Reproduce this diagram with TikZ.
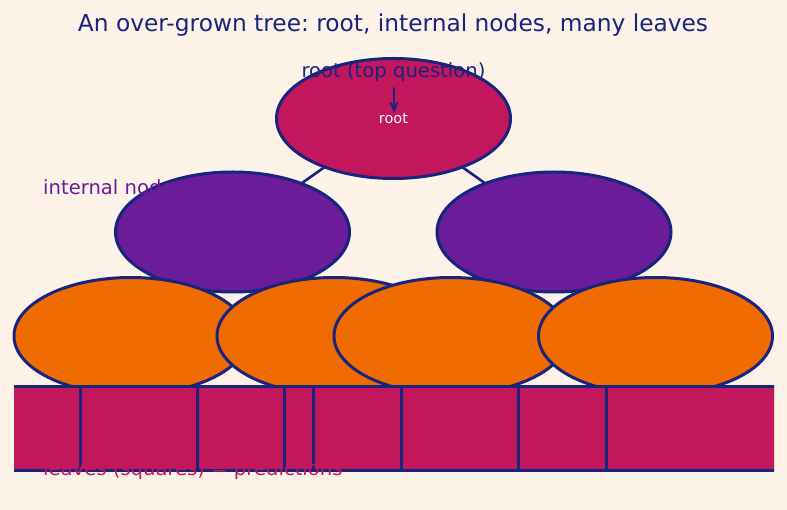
\documentclass[tikz,border=0pt]{standalone}
\usepackage{fontspec}
\setmainfont{DejaVu Sans}
\usetikzlibrary{arrows,shapes.geometric}
\definecolor{ffwwtt}{rgb}{0.99,0.95,0.91}
\definecolor{ccqqww}{rgb}{0.76,0.09,0.36}
\definecolor{wwqqcc}{rgb}{0.42,0.11,0.6}
\definecolor{ffwwqq}{rgb}{0.94,0.42,0.0}
\definecolor{qqqqww}{rgb}{0.1,0.14,0.49}
\frenchspacing

\begin{document}
\begin{tikzpicture}[x=1pt,y=-1pt,line cap=round,line join=round,>=angle 45,
	blob/.style={ellipse,draw=qqqqww,line width=3pt,minimum width=234pt,minimum height=120pt,inner sep=0pt,outer sep=0pt},
	leafblob/.style={blob,fill=ffwwqq,minimum height=117pt},
	leafbox/.style={rectangle,draw=qqqqww,fill=ccqqww,line width=3pt,line join=miter,anchor=north west,minimum height=83pt,inner sep=0pt,outer sep=0pt},
	lbl/.style={font=\fontsize{19.6}{23}\selectfont,inner sep=0pt}]
	\useasboundingbox (0,0) rectangle (787,510);
	\fill[ffwwtt] (0,0) rectangle (787,510);
	% the tree itself
	\node[blob,fill=ccqqww,text=white,font=\fontsize{14.5}{17}\selectfont] (root) at (393.5,118.5) {root};
	\node[blob,fill=wwqqcc] (intL) at (232.5,232) {};
	\node[blob,fill=wwqqcc] (intR) at (554,232) {};
	\draw[qqqqww,line width=2.6pt] (root) -- (intL);
	\draw[qqqqww,line width=2.6pt] (root) -- (intR);
	\node[leafblob] (leafA) at (131,336) {};
	\node[leafblob] (leafB) at (334,336) {};
	\node[leafblob] (leafC) at (451,336) {};
	\node[leafblob] (leafD) at (655.5,336) {};
	\begin{scope}
		\clip (14,0) rectangle (774,510);
		\foreach \x/\w [count=\i] in {8/72,80/117,197/87,284/29,313/88,401/117,518/88,606/176}
			\node[leafbox,minimum width={\w pt}] (box\i) at (\x,387) {};
	\end{scope}
	% labels
	\node[font=\fontsize{23.3}{28}\selectfont,text=qqqqww,anchor=base,inner sep=0pt] (title) at (393,32) {An over-grown tree: root, internal nodes, many leaves};
	\node[lbl,text=qqqqww,anchor=base] (rootlbl) at (393.5,78) {root (top question)};
	\coordinate (arrtail) at (394,88);
	\coordinate (arrtip) at (394,113);
	\draw[->,qqqqww,line width=2pt] (arrtail) -- (arrtip);
	\node[lbl,text=wwqqcc,anchor=base west] (intlbl) at (43,195) {internal nodes};
	\node[lbl,text=ccqqww,anchor=base west] (leaflbl) at (43,475) {leaves (squares) = predictions};
\end{tikzpicture}
\end{document}
